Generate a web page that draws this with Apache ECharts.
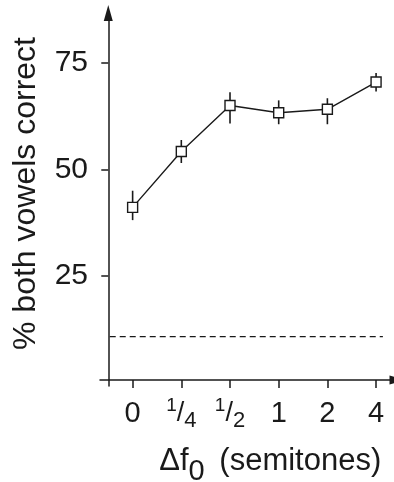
<!DOCTYPE html>
<html>
<head>
<meta charset="utf-8">
<script src="https://cdn.jsdelivr.net/npm/echarts@6/dist/echarts.min.js"></script>
<style>
  html, body { margin: 0; padding: 0; background: #fff; }
  #chart { width: 394px; height: 482px; }
</style>
</head>
<body>
<div id="chart"></div>
<script>
// f0 difference conditions (x axis)
const categories = ['0', '1/4', '1/2', '1', '2', '4'];
// % both vowels correct, mean and error bar ends
const meanCorrect = [41.1, 54.2, 65.0, 63.3, 64.1, 70.5];
const errLow = [38.1, 51.5, 60.8, 60.6, 60.6, 68.3];
const errHigh = [45.0, 56.9, 68.1, 66.2, 66.7, 72.6];
const yTicks = [25, 50, 75];
// chance level (dashed) and how far it runs along x
const chanceLevel = 10.75;
const chanceSpan = [0.03, 5.64];

const ink = '#1a1a1a';
const font = "'Liberation Sans', Arial, sans-serif";

// y range, and where the x axis crosses it (a bit above 0 in the original)
const yMin = -0.82;
const yMax = 86.7;
const xAxisCross = 0.59;

// categories sit in the middle of each unit band
const xPos = categories.map((c, i) => i + 0.5);

const fmtLabel = (v) => {
  const lab = categories[Math.round(v - 0.5)];
  if (lab == null) return '';
  if (lab.indexOf('/') >= 0) {
    const parts = lab.split('/');
    return '{n|' + parts[0] + '}{s|/}{d|' + parts[1] + '}';
  }
  return '{m|' + lab + '}';
};

const chart = echarts.init(document.getElementById('chart'), null, { renderer: 'canvas' });

const option = {
  animation: false,
  backgroundColor: '#fff',
  grid: { left: 100, right: -3.5, top: 13, bottom: 96, outerBoundsMode: 'none' },
  xAxis: {
    type: 'value',
    min: -0.17,
    max: 5.94,
    name: '{a|Δf}{s|0}{a| (semitones)}',
    nameLocation: 'middle',
    nameGap: 60,
    nameTextStyle: {
      padding: [0, 0, 0, 43],
      rich: {
        a: { fontFamily: font, fontSize: 31, lineHeight: 30, color: ink, verticalAlign: 'top' },
        s: { fontFamily: font, fontSize: 29, lineHeight: 52, color: ink, verticalAlign: 'middle', padding: [0, 6, 0, 0] }
      }
    },
    axisLine: {
      onZero: true,
      onZeroAxisIndex: 1,
      symbol: ['none', 'triangle'],
      symbolSize: [9, 16],
      lineStyle: { color: ink, width: 1.5 }
    },
    axisTick: {
      customValues: xPos,
      length: 8,
      lineStyle: { color: ink, width: 1.5 }
    },
    axisLabel: {
      customValues: xPos,
      margin: 10,
      formatter: fmtLabel,
      rich: {
        m: { fontFamily: font, fontSize: 29, lineHeight: 36, color: ink, verticalAlign: 'middle' },
        n: { fontFamily: font, fontSize: 19, lineHeight: 29, color: ink, verticalAlign: 'top' },
        s: { fontFamily: font, fontSize: 27, lineHeight: 36, color: ink, verticalAlign: 'middle' },
        d: { fontFamily: font, fontSize: 22, lineHeight: 20, color: ink, verticalAlign: 'bottom' }
      }
    },
    splitLine: { show: false }
  },
  yAxis: [
    {
      type: 'value',
      min: yMin,
      max: yMax,
      name: '% both vowels correct',
      nameLocation: 'middle',
      nameGap: 58,
      nameTextStyle: { fontFamily: font, fontSize: 32, color: ink, padding: [0, 0, 0, 12] },
      axisLine: {
        show: true,
        onZero: true,
        symbol: ['none', 'triangle'],
        symbolSize: [9, 16],
        lineStyle: { color: ink, width: 1.5 }
      },
      axisTick: {
        show: true,
        customValues: yTicks,
        length: 7,
        lineStyle: { color: ink, width: 1.5 }
      },
      axisLabel: {
        customValues: yTicks,
        margin: 12,
        fontFamily: font,
        fontSize: 30,
        color: ink
      },
      splitLine: { show: false }
    },
    {
      // hidden helper axis: its zero is where the x axis crosses
      type: 'value',
      show: false,
      position: 'right',
      min: yMin - xAxisCross,
      max: yMax - xAxisCross,
      splitLine: { show: false }
    }
  ],
  series: [
    {
      name: 'chance',
      type: 'line',
      data: chanceSpan.map(x => [x, chanceLevel]),
      symbol: 'none',
      silent: true,
      lineStyle: { color: ink, width: 1.3, type: [6, 4] }
    },
    {
      name: 'error',
      type: 'custom',
      data: xPos.map((x, i) => [x, errLow[i], errHigh[i]]),
      z: 3,
      renderItem: (params, api) => {
        const lo = api.coord([api.value(0), api.value(1)]);
        const hi = api.coord([api.value(0), api.value(2)]);
        return {
          type: 'line',
          shape: { x1: lo[0], y1: lo[1], x2: hi[0], y2: hi[1] },
          style: { stroke: ink, lineWidth: 1.6 }
        };
      }
    },
    {
      name: 'mean',
      type: 'line',
      data: xPos.map((x, i) => [x, meanCorrect[i]]),
      z: 5,
      symbol: 'rect',
      symbolSize: 10,
      itemStyle: { color: '#fff', borderColor: ink, borderWidth: 1.4 },
      lineStyle: { color: ink, width: 1.4 }
    }
  ]
};

chart.setOption(option);
</script>
</body>
</html>
